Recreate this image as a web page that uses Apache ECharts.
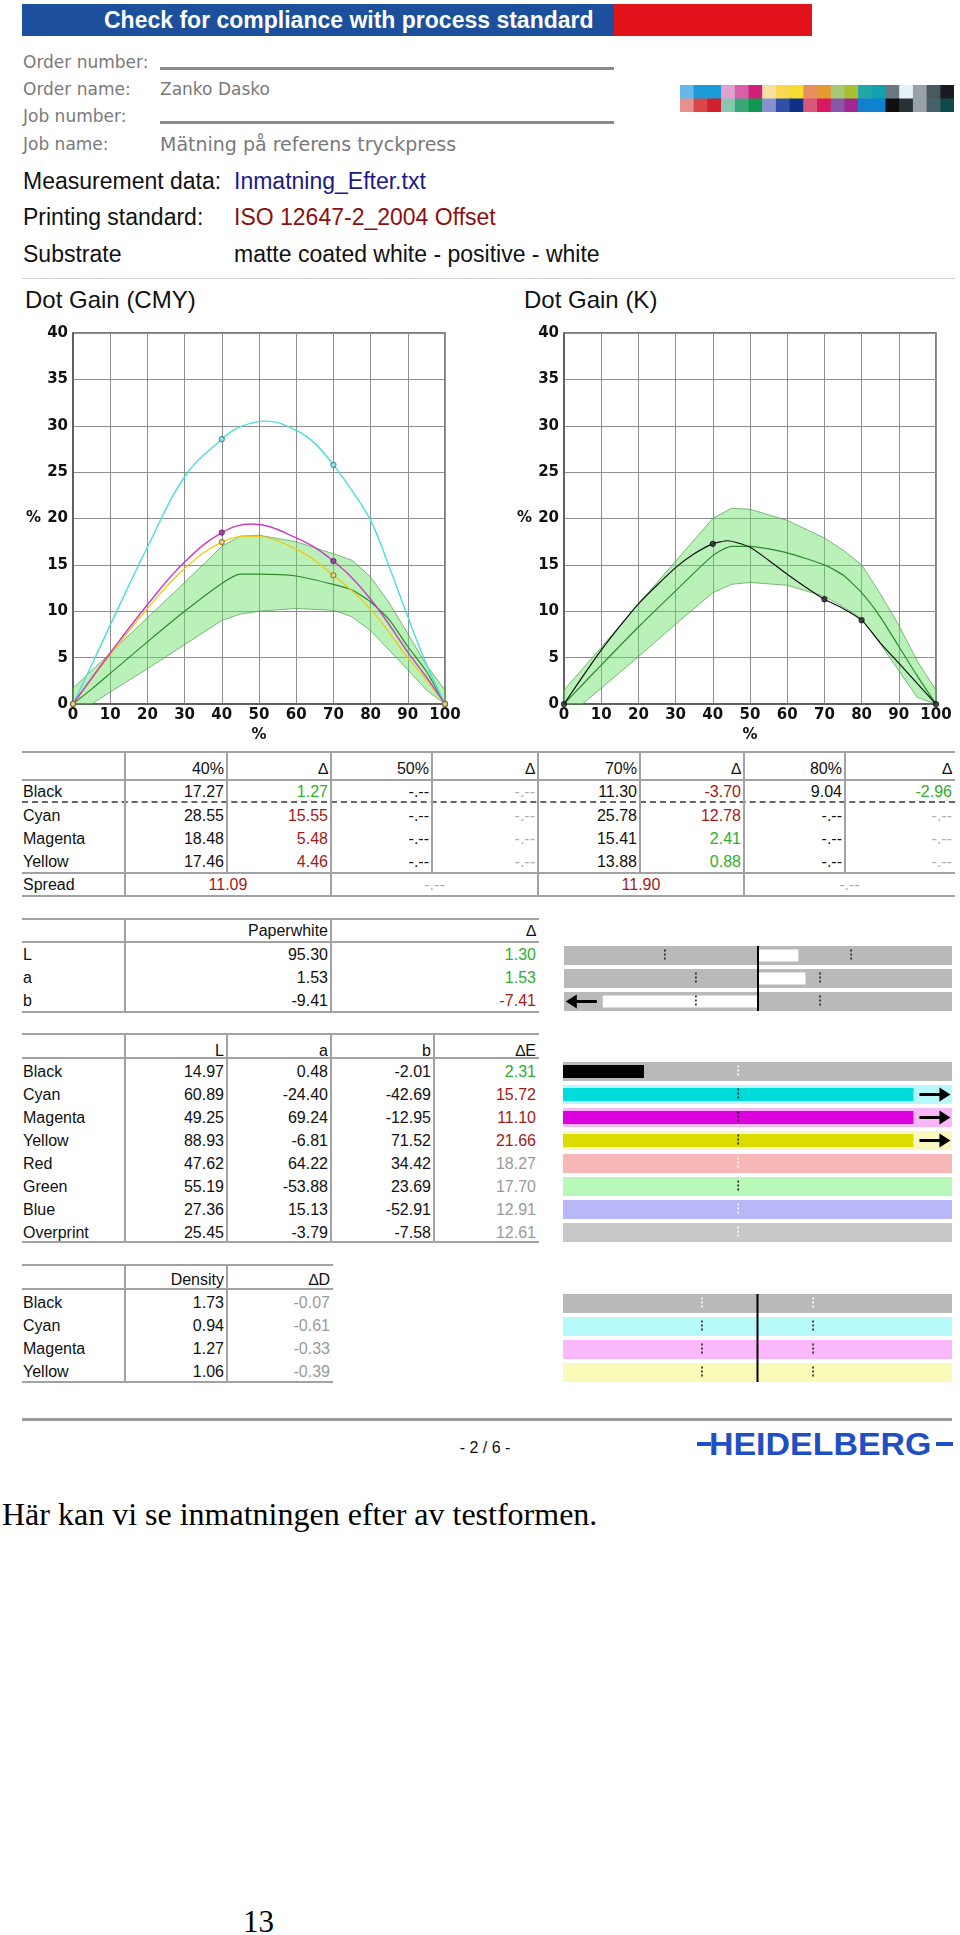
<!DOCTYPE html>
<html><head><meta charset="utf-8">
<script src="https://cdn.jsdelivr.net/npm/echarts@6/dist/echarts.min.js"></script>
<style>
html,body{margin:0;padding:0;background:#fff;}
body{width:960px;height:1935px;position:relative;overflow:hidden;font-family:"Liberation Sans",Arial,sans-serif;}
.a{position:absolute;white-space:nowrap;}
</style></head><body>
<script>
// ================= DATA =================
const titleText = 'Check for compliance with process standard';
const orderFields = ['Order number:', 'Order name:', 'Job number:', 'Job name:'];
const orderValues = ['', 'Zanko Dasko', '', 'Mätning på referens tryckpress'];
const infoLabels = ['Measurement data:', 'Printing standard:', 'Substrate'];
const infoValues = ['Inmatning_Efter.txt', 'ISO 12647-2_2004 Offset', 'matte coated white - positive - white'];

const stripTop = ['#66b8e8','#1a9ad6','#1a9ad6','#e0a0d0','#d860a8','#d0207a','#f8e0a0','#f8d850','#f8dc30','#e89060','#e89830','#a8c878','#a8c030','#20a8a8','#10a0b0','#6a7880','#e8f0f8','#98a0a8','#4a5860','#1a1a20'];
const stripBottom = ['#e89090','#d84848','#d02030','#88c8b0','#38a878','#109850','#8890d0','#3050a8','#103088','#d85878','#d81860','#8858a8','#a02890','#1080d0','#1080d0','#101010','#283038','#98a0a8','#486068','#104848'];

// Dot gain (CMY) tolerance band
const cmyBandX = [0,5,10,20,30,40,45,50,60,70,75,80,85,90,95,100];
const cmyUpper = [1.7,3.6,5.5,9.3,13.1,17,18.1,18.2,17.5,16.2,15.5,13.7,10.9,7.6,4.2,1.5];
const cmyLower = [0,0,1.3,3.8,6.4,9,9.7,10,10.3,10.1,9.4,7.9,5.8,3.7,1.5,0];
const cmyCentre = [0,1.6,3.3,6.7,10,13,14,14,13.8,12.9,12.3,11,9.1,6.2,3.5,0];
// measured curves (CMY)
const cyanX = [0,5,10,20,30,40,45,52,60,65,70,75,80,85,90,95,100];
const cyanCurve = [0,4.2,8.5,16.9,24.5,28.55,29.9,30.5,29.5,28.1,25.78,23.0,19.8,14.8,9.4,4.3,0];
const myX = [0,10,20,30,40,48,60,70,80,90,95,100];
const magentaCurve = [0,5.5,10.7,15.3,18.48,19.4,17.9,15.41,11.3,5.6,2.9,0];
const yellowCurve = [0,5.3,10.3,14.6,17.46,18.1,16.7,13.88,10.2,5.0,2.6,0];

// Dot gain (K)
const kBandX = [0,5,10,20,30,40,45,50,60,70,75,80,85,90,95,100];
const kUpper = [1.5,3.8,6.1,10.8,15.4,20,21.1,21,19.8,17.9,16.6,15,11.9,8.5,4.6,1.5];
const kLower = [0,0,1.7,5.1,8.6,12,12.9,13.1,12.8,11.6,10.5,9.2,6.5,3.6,0.7,0];
const kCentre = [0,2.1,4.2,8.3,12.2,16,17,17,16.3,15,13.9,12,9.4,6.2,3,0];
const blackX = [0,10,20,30,35,40,44,50,55,60,65,70,75,80,85,90,95,100];
const blackCurve = [0,5.8,10.8,14.7,16.2,17.27,17.6,16.9,15.5,14.0,12.6,11.3,10.3,9.04,6.6,4.4,2.2,0];

// Dot gain table
const dgPct = [40, 50, 70, 80];
const dgHeaders = ['40%', '\u2206', '50%', '\u2206', '70%', '\u2206', '80%', '\u2206'];
const dgRows = ['Black', 'Cyan', 'Magenta', 'Yellow'];
const dgBlack = [17.27, null, 11.30, 9.04];
const dgBlackDelta = [1.27, null, -3.70, -2.96];
const dgCyan = [28.55, null, 25.78, null];
const dgCyanDelta = [15.55, null, 12.78, null];
const dgMagenta = [18.48, null, 15.41, null];
const dgMagentaDelta = [5.48, null, 2.41, null];
const dgYellow = [17.46, null, 13.88, null];
const dgYellowDelta = [4.46, null, 0.88, null];
const dgDeltaOk = [[true,null,false,true],[false,null,false,null],[false,null,true,null],[false,null,true,null]];
const dgSpread = [11.09, null, 11.90, null];

// Paper white
const pwRows = ['L', 'a', 'b'];
const pwValues = [95.30, 1.53, -9.41];
const pwDelta = [1.30, 1.53, -7.41];
const pwOk = [true, true, false];
const pwTolerance = [3, 2, 2];

// Lab solids
const labRows = ['Black','Cyan','Magenta','Yellow','Red','Green','Blue','Overprint'];
const labL = [14.97, 60.89, 49.25, 88.93, 47.62, 55.19, 27.36, 25.45];
const labA = [0.48, -24.40, 69.24, -6.81, 64.22, -53.88, 15.13, -3.79];
const labB = [-2.01, -42.69, -12.95, 71.52, 34.42, 23.69, -52.91, -7.58];
const labDE = [2.31, 15.72, 11.10, 21.66, 18.27, 17.70, 12.91, 12.61];
const labStatus = ['ok','bad','bad','bad','na','na','na','na'];
const labBarShown = [true, true, true, true, false, false, false, false];
const deTolerance = 5;

// Density
const denRows = ['Black','Cyan','Magenta','Yellow'];
const denValues = [1.73, 0.94, 1.27, 1.06];
const denDelta = [-0.07, -0.61, -0.33, -0.39];
const denTolerance = 0.1;

// ================= HELPERS =================
const body = document.body;
function div(css, text){ const d=document.createElement('div'); d.className='a'; d.style.cssText=css; if(text!==undefined) d.textContent=text; body.appendChild(d); return d; }
function txt(x, yc, text, size, extra){ const lh=size+8; return div(`left:${x}px;top:${yc-lh/2}px;line-height:${lh}px;font-size:${size}px;${extra||''}`, text); }
function txtR(xr, yc, text, size, extra){ const lh=size+8; return div(`left:${xr-300}px;width:300px;text-align:right;top:${yc-lh/2}px;line-height:${lh}px;font-size:${size}px;${extra||''}`, text); }
function txtC(xc, yc, text, size, extra){ const lh=size+8; return div(`left:${xc-200}px;width:400px;text-align:center;top:${yc-lh/2}px;line-height:${lh}px;font-size:${size}px;${extra||''}`, text); }
function hline(x1, x2, y, w, color, style){ return div(`left:${x1}px;top:${y-w/2}px;width:${x2-x1}px;height:0;border-top:${w}px ${style||'solid'} ${color};`); }
function vline(x, y1, y2, w, color){ return div(`left:${x-w/2}px;top:${y1}px;width:${w}px;height:${y2-y1}px;background:${color};`); }
const fmt = v => v===null ? '-.--' : v.toFixed(2);
const GREEN = '#2fae2f', RED = '#a01a1a', GRAYT = '#9a9a9a', LINE = '#a2a2a2';

// ================= HEADER =================
div('left:22px;top:4px;width:592px;height:32px;background:#1c4f9c;');
div('left:614px;top:4px;width:198px;height:32px;background:#e3131c;');
txt(104, 20, titleText, 23, 'color:#fff;font-weight:bold;');

const ordY = [62, 89, 116, 144];
const ordSizes = [17, 17, 17, 19];
orderFields.forEach((f,i)=>{
  txt(23, ordY[i], f, 17, 'color:#7a7a7a;font-family:"DejaVu Sans";');
  if(orderValues[i]) txt(160, ordY[i], orderValues[i], ordSizes[i], 'color:#7a7a7a;font-family:"DejaVu Sans";');
  else hline(160, 614, ordY[i]+6, 3, '#8a8a8a');
});
const infoY = [181, 217, 254];
const infoColors = ['#1a1a8a', '#8b1010', '#111'];
infoLabels.forEach((f,i)=>{
  txt(23, infoY[i], f, 23, 'color:#111;');
  txt(234, infoY[i], infoValues[i], 23, `color:${infoColors[i]};`);
});
hline(22, 955, 278, 1, '#d0d0d0');

// colour strip (cells drawn by ECharts)
const stripDiv = div('left:680px;top:85px;width:274px;height:27px;');
(function(){
  const ch = echarts.init(stripDiv, null, {renderer:'canvas'});
  const rowsC = [stripTop, stripBottom];
  const data = [];
  rowsC.forEach((r,ri)=>r.forEach((c,ci)=>data.push([ci, ri])));
  ch.setOption({animation:false,
    grid:{left:0,right:0,top:0,bottom:0,outerBoundsMode:'none'},
    xAxis:{type:'category', data:stripTop.map((_,i)=>i), show:false},
    yAxis:{type:'category', data:['t','b'], inverse:true, show:false},
    series:[{type:'custom', data:data, silent:true, renderItem:(p,api)=>{
      const c=api.value(0), r=api.value(1); const pt=api.coord([c,r]); const s=api.size([1,1]);
      return {type:'rect', shape:{x:pt[0]-s[0]/2, y:pt[1]-s[1]/2, width:s[0]+0.6, height:s[1]+0.6}, style:{fill:rowsC[r][c]}};
    }}]});
})();

// ================= DOT GAIN CHARTS =================
txt(25, 300, 'Dot Gain (CMY)', 24, 'color:#111;');
txt(524, 300, 'Dot Gain (K)', 24, 'color:#111;');

function bandSeries(xs, up, lo){
  return {type:'custom', data:[[0,0]], silent:true, z:1, renderItem:(p,api)=>{
    const pts=[]; for(let i=0;i<xs.length;i++) pts.push(api.coord([xs[i], up[i]]));
    for(let i=xs.length-1;i>=0;i--) pts.push(api.coord([xs[i], lo[i]]));
    return {type:'polygon', shape:{points:pts}, style:{fill:'rgba(100,225,100,0.45)', stroke:'rgba(70,150,70,0.65)', lineWidth:1}};
  }};
}
function curve(xs, ys, color, w, sm, z){
  return {type:'line', data:xs.map((x,i)=>[x, ys[i]]), smooth:sm, symbol:'none', silent:true, z:z||3,
    lineStyle:{color:color, width:w}};
}
function marks(vals, color, border, size){
  const d=[[0,0]]; vals.forEach((v,i)=>{ if(v!==null) d.push([dgPct[i], v]); }); d.push([100,0]);
  return {type:'scatter', data:d, symbol:'circle', symbolSize:size||5, silent:true, z:5,
    itemStyle:{color:color, borderColor:border, borderWidth:1.2}};
}
function dgOption(left, series){
  const lab = {color:'#111', fontFamily:'DejaVu Sans', fontWeight:'bold', fontSize:15};
  return {animation:false,
    grid:{left:left, top:33, width:372, height:371, show:true, borderColor:'#555', borderWidth:1.5, outerBoundsMode:'none'},
    xAxis:{type:'value', min:0, max:100, interval:10,
      axisLine:{show:true, lineStyle:{color:'#555', width:1.5}}, axisTick:{show:false},
      splitLine:{show:true, lineStyle:{color:'#8e8e8e', width:1}},
      axisLabel:Object.assign({margin:4}, lab),
      name:'%', nameLocation:'middle', nameGap:21, nameTextStyle:Object.assign({}, lab)},
    yAxis:{type:'value', min:0, max:40, interval:5,
      axisLine:{show:true, lineStyle:{color:'#555', width:1.5}}, axisTick:{show:false},
      splitLine:{show:true, lineStyle:{color:'#8e8e8e', width:1}},
      axisLabel:Object.assign({margin:5}, lab),
      name:'%', nameLocation:'middle', nameRotate:0, nameGap:32, nameTextStyle:Object.assign({}, lab)},
    series:series};
}
const c1 = div('left:0px;top:300px;width:480px;height:440px;');
echarts.init(c1).setOption(dgOption(73, [
  bandSeries(cmyBandX, cmyUpper, cmyLower),
  curve(cmyBandX, cmyCentre, '#2e8a2e', 1.2, 0.2, 2),
  curve(cyanX, cyanCurve, '#4adede', 1.4, 0.4),
  curve(myX, yellowCurve, '#f0c81a', 1.3, 0.4),
  curve(myX, magentaCurve, '#c83cc8', 1.4, 0.4),
  marks(dgMagenta, '#9a3aa0', '#6a2070'),
  marks(dgCyan, '#9ae6e6', '#2f8a8a'),
  marks(dgYellow, '#eadb8a', '#8a6a1a')
]));
const c2 = div('left:480px;top:300px;width:480px;height:440px;');
echarts.init(c2).setOption(dgOption(84, [
  bandSeries(kBandX, kUpper, kLower),
  curve(kBandX, kCentre, '#2e8a2e', 1.2, 0.2, 2),
  curve(blackX, blackCurve, '#111', 1.2, 0.2),
  marks(dgBlack, '#333', '#111')
]));

// ================= TABLE 1: dot gain values =================
(function(){
  const cols = [22,125,227,331,432,538,640,744,845,955];
  const top=752, hY=769, hLine=780, rowY=[792,816,839,862], sLine=873, sY=885, bot=896;
  hline(22,955,top,2,LINE); hline(22,955,hLine,2,LINE); hline(22,955,sLine,2,LINE); hline(22,955,bot,2,LINE);
  hline(22,955,802,2,'#666','dashed');
  for(let i=1;i<cols.length-1;i++) vline(cols[i], top, sLine, 1.5, LINE);
  [1,3,5,7].forEach(i=>vline(cols[i], sLine, bot, 1.5, LINE));
  dgHeaders.forEach((h,i)=>txtR(cols[i+2]-3, hY, h, 16, 'color:#111;'));
  const vals=[dgBlack,dgCyan,dgMagenta,dgYellow], dels=[dgBlackDelta,dgCyanDelta,dgMagentaDelta,dgYellowDelta];
  dgRows.forEach((r,ri)=>{
    txt(23, rowY[ri], r, 16, 'color:#111;');
    for(let k=0;k<4;k++){
      txtR(cols[2+2*k]-3, rowY[ri], fmt(vals[ri][k]), 16, 'color:#111;');
      const d=dels[ri][k]; const ok=dgDeltaOk[ri][k];
      txtR(cols[3+2*k]-3, rowY[ri], fmt(d), 16, `color:${d===null?'#b0b0b0':(ok?GREEN:RED)};`);
    }
  });
  txt(23, sY, 'Spread', 16, 'color:#111;');
  dgSpread.forEach((v,k)=>txtC((cols[1+2*k]+cols[3+2*k])/2, sY, fmt(v), 16, `color:${v===null?'#b0b0b0':RED};`));
})();

// ================= TABLE 2: paper white =================
(function(){
  const top=919, hY=931, hLine=942, rowY=[955,978,1001], bot=1012;
  hline(22,539,top,2,LINE); hline(22,539,hLine,2,LINE); hline(22,539,bot,2,LINE);
  vline(125, top, bot, 1.5, LINE); vline(331, top, bot, 1.5, LINE);
  txtR(331-3, hY, 'Paperwhite', 16, 'color:#111;'); txtR(539-3, hY, '\u2206', 16, 'color:#111;');
  pwRows.forEach((r,i)=>{
    txt(23, rowY[i], r, 16, 'color:#111;');
    txtR(331-3, rowY[i], fmt(pwValues[i]), 16, 'color:#111;');
    txtR(539-3, rowY[i], fmt(pwDelta[i]), 16, `color:${pwOk[i]?GREEN:RED};`);
  });
})();

// ================= TABLE 3: Lab =================
(function(){
  const cols=[22,125,227,331,434,539];
  const top=1034, hY=1051, hLine=1058, bot=1242;
  hline(22,539,top,2,LINE); hline(22,539,hLine,2,LINE); hline(22,539,bot,2,LINE);
  for(let i=1;i<5;i++) vline(cols[i], top, bot, 1.5, LINE);
  ['L','a','b','\u2206E'].forEach((h,i)=>txtR(cols[i+2]-3, hY, h, 16, 'color:#111;'));
  labRows.forEach((r,i)=>{
    const y=1071.5+23*i;
    txt(23, y, r, 16, 'color:#111;');
    txtR(cols[2]-3, y, fmt(labL[i]), 16, 'color:#111;');
    txtR(cols[3]-3, y, fmt(labA[i]), 16, 'color:#111;');
    txtR(cols[4]-3, y, fmt(labB[i]), 16, 'color:#111;');
    const c = labStatus[i]==='ok'?GREEN:(labStatus[i]==='bad'?RED:GRAYT);
    txtR(cols[5]-3, y, fmt(labDE[i]), 16, `color:${c};`);
  });
})();

// ================= TABLE 4: density =================
(function(){
  const top=1265, hY=1280, hLine=1289, bot=1382;
  hline(22,333,top,2,LINE); hline(22,333,hLine,2,LINE); hline(22,333,bot,2,LINE);
  vline(125, top, bot, 1.5, LINE); vline(227, top, bot, 1.5, LINE);
  txtR(227-3, hY, 'Density', 16, 'color:#111;'); txtR(333-3, hY, '\u2206D', 16, 'color:#111;');
  denRows.forEach((r,i)=>{
    const y=1303+23*i;
    txt(23, y, r, 16, 'color:#111;');
    txtR(227-3, y, fmt(denValues[i]), 16, 'color:#111;');
    txtR(333-3, y, fmt(denDelta[i]), 16, `color:${GRAYT};`);
  });
})();

// ================= INDICATOR BARS (ECharts) =================
function indicator(elCss, cfg){
  const el = div(elCss);
  const ch = echarts.init(el);
  const series = [];
  series.push({type:'custom', silent:true, z:1, data:cfg.rows.map((r,i)=>[cfg.min, i]), renderItem:(p,api)=>{
    const i=api.value(1); const a=api.coord([cfg.min,i]); const b=api.coord([cfg.max,i]);
    return {type:'rect', shape:{x:a[0], y:a[1]-cfg.bgH/2, width:b[0]-a[0], height:cfg.bgH}, style:{fill:cfg.bg[i]}};
  }});
  if(cfg.values){
    series.push({type:'custom', silent:true, z:2, data:cfg.values.map((v,i)=>[v, i]), renderItem:(p,api)=>{
      const i=api.value(1); if(!cfg.show[i]) return null;
      const v=api.value(0); const cv=Math.max(-cfg.clip, Math.min(cfg.clip, v));
      const a=api.coord([0,i]), b=api.coord([cv,i]);
      const kids=[{type:'rect', shape:{x:Math.min(a[0],b[0]), y:a[1]-cfg.barH/2, width:Math.abs(b[0]-a[0]), height:cfg.barH}, style:{fill:cfg.barColor[i]}}];
      if(cv!==v){
        const dir = v>0?1:-1; const y=a[1];
        const x1=b[0]+dir*6, x2=b[0]+dir*37;
        kids.push({type:'line', shape:{x1:x1, y1:y, x2:x2-dir*8, y2:y}, style:{stroke:'#000', lineWidth:3}});
        kids.push({type:'polygon', shape:{points:[[x2-dir*11,y-7],[x2,y],[x2-dir*11,y+7]]}, style:{fill:'#000'}});
      }
      return {type:'group', children:kids};
    }});
  }
  const td=[]; cfg.tol.forEach((t,i)=>{ if(cfg.symmetric) td.push([-t,i]); td.push([t,i]); });
  series.push({type:'custom', silent:true, z:3, data:td, renderItem:(p,api)=>{
    const i=api.value(1); const c=api.coord([api.value(0), i]);
    return {type:'line', shape:{x1:c[0], y1:c[1]-6, x2:c[0], y2:c[1]+6}, style:{stroke:cfg.tickColor[i], lineWidth:1.6, lineDash:[2,2]}};
  }});
  if(cfg.centre){
    series.push({type:'custom', silent:true, z:4, data:[[0,0]], renderItem:(p,api)=>{
      const c=api.coord([0,0]); const cs=p.coordSys;
      return {type:'line', shape:{x1:c[0], y1:cs.y+cfg.cTop, x2:c[0], y2:cs.y+cs.height-cfg.cBot}, style:{stroke:'#000', lineWidth:2}};
    }});
  }
  ch.setOption({animation:false,
    grid:{left:0,right:0,top:0,bottom:0,outerBoundsMode:'none'},
    xAxis:{type:'value', min:cfg.min, max:cfg.max, show:false},
    yAxis:{type:'category', data:cfg.rows, inverse:true, show:false},
    series:series});
}
indicator('left:564px;top:943.5px;width:388px;height:69px;', {
  rows:pwRows, min:-6.25, max:6.25, bgH:19, barH:12, bg:['#b9b9b9','#b9b9b9','#b9b9b9'],
  values:pwDelta, show:[true,true,true], clip:5, barColor:['#fff','#fff','#fff'],
  tol:pwTolerance, symmetric:true, tickColor:['#222','#222','#222'], centre:true, cTop:2, cBot:2});
indicator('left:563px;top:1060px;width:389px;height:184px;', {
  rows:labRows, min:0, max:11.1, bgH:19, barH:13,
  bg:['#b9b9b9','#b8f8f8','#f8b8f8','#f8f8c0','#f8b8b8','#b8f8b8','#b8b8f8','#c8c8c8'],
  values:labDE, show:labBarShown, clip:10, barColor:['#000','#00dcdc','#dc00dc','#dcdc00','#f00','#0f0','#00f','#888'],
  tol:labRows.map(()=>deTolerance), symmetric:false,
  tickColor:['#fff','#222','#222','#222','#fff','#222','#fff','#fff'], centre:false});
indicator('left:563px;top:1292px;width:389px;height:92px;', {
  rows:denRows, min:-0.35, max:0.35, bgH:19, barH:13,
  bg:['#b9b9b9','#b8fafa','#fab8fa','#fafab8'],
  values:null, tol:denRows.map(()=>denTolerance), symmetric:true,
  tickColor:['#fff','#222','#222','#222'], centre:true, cTop:2, cBot:2});

// ================= FOOTER =================
hline(22, 952, 1419, 3, '#999');
txtC(485, 1448, '- 2 / 6 -', 16, 'color:#111;');
div('left:697px;top:1442px;width:14px;height:4px;background:#1f4fc4;');
div('left:936px;top:1442px;width:17px;height:4px;background:#1f4fc4;');
div('left:709px;top:1426px;line-height:36px;font-size:32px;font-weight:bold;color:#1f4fc4;letter-spacing:0px;transform:scaleX(1.06);transform-origin:left center;', 'HEIDELBERG');
txt(2, 1514, 'Här kan vi se inmatningen efter av testformen.', 32, 'font-family:"Liberation Serif";color:#000;');
txt(243, 1921, '13', 31, 'font-family:"Liberation Serif";color:#000;');
</script>
</body></html>
